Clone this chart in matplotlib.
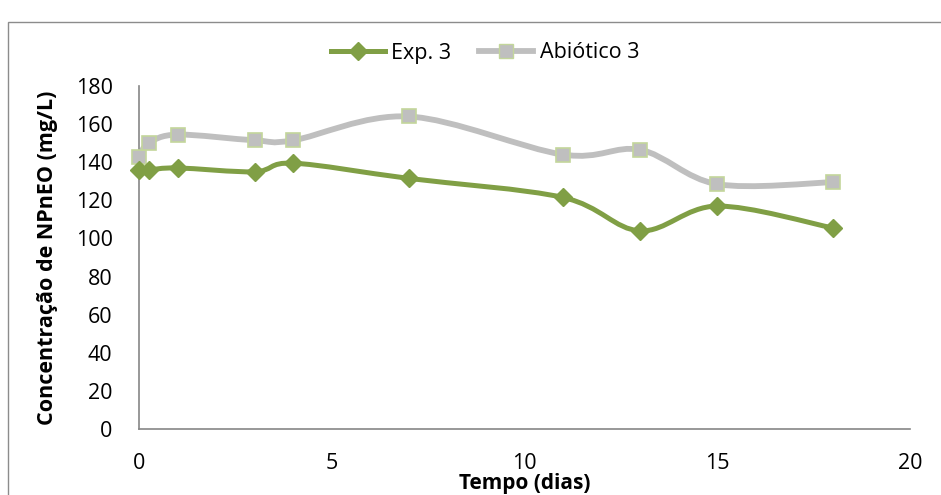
import numpy as np
import matplotlib.pyplot as plt
from matplotlib.path import Path
from matplotlib.patches import PathPatch, Rectangle
from matplotlib.lines import Line2D

# Sampling days and NPnEO concentrations (mg/L)
dias_exp = [0, 0.25, 1, 3, 4, 7, 11, 13, 15, 18]
conc_exp = [136, 136, 137, 135, 139.5, 131.5, 121.5, 104, 117, 105.5]

dias_abio = [0, 0.25, 1, 3, 4, 7, 11, 13, 15, 18]
conc_abio = [143, 150, 154.5, 151.5, 151.5, 164, 144, 146.5, 128.5, 129.5]

x_ticks = [0, 5, 10, 15, 20]
y_ticks = [0, 20, 40, 60, 80, 100, 120, 140, 160, 180]

GREEN = "#809F45"
GRAY = "#BFBFBF"
SQ_EDGE = "#C3D69B"

plt.rcParams["font.family"] = ["Open Sans", "DejaVu Sans"]


def smooth_path(xs, ys):
    """Cardinal (Catmull-Rom) Bezier path through the points."""
    p = np.column_stack([xs, ys]).astype(float)
    n = len(p)
    verts = [p[0]]
    codes = [Path.MOVETO]
    for i in range(n - 1):
        p0 = p[i - 1] if i > 0 else p[i]
        p1 = p[i]
        p2 = p[i + 1]
        p3 = p[i + 2] if i + 2 < n else p[i + 1]
        c1 = p1 + (p2 - p0) / 6.0
        c2 = p2 - (p3 - p1) / 6.0
        verts += [c1, c2, p2]
        codes += [Path.CURVE4] * 3
    return Path(verts, codes)


fig = plt.figure(figsize=(9.41, 4.95), dpi=100)
ax = fig.add_axes([139 / 941, 1 - 429 / 495, (910 - 139) / 941, (429 - 86) / 495])

# Outer chart frame
fig.patches.append(Rectangle((8 / 941, -0.1), 1.1, 1 - 22 / 495 + 0.1,
                             transform=fig.transFigure, fill=False,
                             edgecolor="#8C8C8C", linewidth=1.0))

ax.add_patch(PathPatch(smooth_path(dias_abio, conc_abio), fill=False,
                       edgecolor=GRAY, linewidth=4.2, capstyle="round", zorder=2))
ax.add_patch(PathPatch(smooth_path(dias_exp, conc_exp), fill=False,
                       edgecolor=GREEN, linewidth=3.6, capstyle="round", zorder=3))
ax.plot(dias_abio, conc_abio, linestyle="none", marker="s", markersize=10,
        markerfacecolor=GRAY, markeredgecolor=SQ_EDGE, markeredgewidth=1.2,
        zorder=4, clip_on=False)
ax.plot(dias_exp, conc_exp, linestyle="none", marker="D", markersize=9.5,
        markerfacecolor=GREEN, markeredgecolor=GREEN, zorder=5, clip_on=False)

ax.set_xlim(0, 20)
ax.set_ylim(0, 180)
ax.set_xticks(x_ticks)
ax.set_yticks(y_ticks)
ax.tick_params(length=0, labelsize=15.5)
ax.tick_params(axis="x", pad=17)
ax.tick_params(axis="y", pad=19)
for s in ("top", "right"):
    ax.spines[s].set_visible(False)
for s in ("left", "bottom"):
    ax.spines[s].set_color("#868686")
    ax.spines[s].set_linewidth(1.2)

ax.set_xlabel("Tempo (dias)", fontsize=15, fontweight="bold", va="center")
ax.xaxis.set_label_coords(0.5, -(483 - 429) / 343)
ax.set_ylabel("Concentração de NPnEO (mg/L)", fontsize=15.5, fontweight="bold",
              va="center")
ax.yaxis.set_label_coords(-(139 - 48) / 771, 0.5)

handles = [
    Line2D([], [], color=GREEN, linewidth=3.6, marker="D", markersize=9.5,
           markerfacecolor=GREEN, markeredgecolor=GREEN),
    Line2D([], [], color=GRAY, linewidth=4.2, marker="s", markersize=10,
           markerfacecolor=GRAY, markeredgecolor=SQ_EDGE),
]
fig.legend(handles, ["Exp. 3", "Abiótico 3"], loc="center",
           bbox_to_anchor=(485 / 941, 1 - 53 / 495), ncol=2, frameon=False,
           fontsize=15.5, handlelength=2.5, handletextpad=0.3, columnspacing=1.3)

fig.savefig("out.png", dpi=100)
